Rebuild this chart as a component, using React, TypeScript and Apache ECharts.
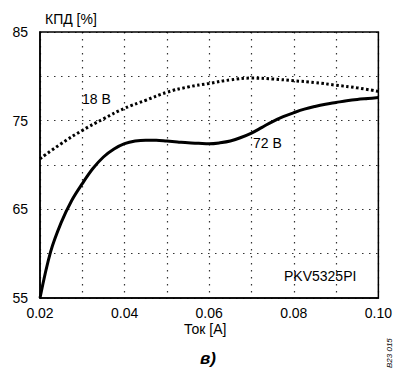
import React, { useEffect, useRef } from "react";
import * as echarts from "echarts";

const current18 = [0.02, 0.025, 0.03, 0.035, 0.04, 0.045, 0.05, 0.055, 0.06, 0.065, 0.07, 0.075, 0.08, 0.085, 0.09, 0.095, 0.1];
const eff18 = [70.7, 72.4, 73.9, 75.2, 76.4, 77.3, 78.2, 78.8, 79.2, 79.6, 79.8, 79.7, 79.5, 79.3, 79.0, 78.7, 78.3];

const current72 = [
  0.02, 0.0225, 0.025, 0.0275, 0.03, 0.0325, 0.035, 0.0375, 0.04, 0.0425, 0.045, 0.0475, 0.05, 0.0525, 0.055, 0.0575,
  0.06, 0.0625, 0.065, 0.0675, 0.07, 0.0725, 0.075, 0.0775, 0.08, 0.0825, 0.085, 0.0875, 0.09, 0.0925, 0.095, 0.0975, 0.1,
];
const eff72 = [
  55, 60.2, 63.5, 66.0, 67.9, 69.6, 70.9, 71.8, 72.4, 72.7, 72.8, 72.8, 72.7, 72.6, 72.5, 72.45,
  72.4, 72.5, 72.7, 73.1, 73.6, 74.25, 74.9, 75.45, 75.9, 76.3, 76.6, 76.85, 77.05, 77.25, 77.4, 77.5, 77.6,
];

const xTickLabels = ["0.02", "0.04", "0.06", "0.08", "0.10"];
const yTickLabels = ["55", "65", "75", "85"];

const FONT = "'Liberation Sans', Arial, sans-serif";

export default function App() {
  const ref = useRef<HTMLDivElement>(null);
  useEffect(() => {
    if (!ref.current) return;
    const chart = echarts.init(ref.current, undefined, { renderer: "svg" });
    const grid = { left: 40, right: 16, top: 32, bottom: 73 };
    const splitStyle = { color: "#000", width: 1.2, type: [1.5, 5.5] as any, opacity: 0.8 };
    chart.setOption({
      animation: false,
      backgroundColor: "#fff",
      grid: { ...grid, show: true, borderColor: "#000", borderWidth: 1.5 },
      xAxis: {
        type: "value",
        min: 0.02,
        max: 0.1,
        interval: 0.01,
        axisLine: { show: true, lineStyle: { color: "#000", width: 1.5 } },
        axisTick: { show: false },
        splitLine: { show: true, lineStyle: splitStyle },
        axisLabel: {
          margin: 8,
          color: "#000",
          fontSize: 14,
          fontFamily: FONT,
          showMinLabel: true,
          showMaxLabel: true,
          formatter: (v: number) => {
            const s = v.toFixed(2);
            return xTickLabels.includes(s) ? s : "";
          },
        },
      },
      yAxis: {
        type: "value",
        min: 55,
        max: 85,
        interval: 5,
        axisLine: { show: true, lineStyle: { color: "#000", width: 1.5 } },
        axisTick: { show: false },
        splitLine: { show: true, lineStyle: splitStyle },
        axisLabel: {
          margin: 12,
          color: "#000",
          fontSize: 14,
          fontFamily: FONT,
          formatter: (v: number) => {
            const s = String(Math.round(v));
            return yTickLabels.includes(s) ? s : "";
          },
        },
      },
      series: [
        {
          type: "line",
          name: "18 В",
          data: current18.map((x, i) => [x, eff18[i]]),
          smooth: 0.5,
          showSymbol: false,
          lineStyle: { color: "#000", width: 3, type: [2.5, 2.5] as any },
        },
        {
          type: "line",
          name: "72 В",
          data: current72.map((x, i) => [x, eff72[i]]),
          smooth: 0.35,
          showSymbol: false,
          lineStyle: { color: "#000", width: 3 },
        },
      ],
      graphic: [
        { type: "text", left: 45, top: 12, style: { text: "КПД [%]", fontSize: 14, fontFamily: FONT, fill: "#000" } },
        { type: "text", left: 82, top: 92, style: { text: "18 В", fontSize: 14, fontFamily: FONT, fill: "#000" } },
        { type: "text", left: 253, top: 136, style: { text: "72 В", fontSize: 14, fontFamily: FONT, fill: "#000" } },
        { type: "text", left: 284, top: 269, style: { text: "PKV5325PI", fontSize: 14, fontFamily: FONT, fill: "#000" } },
        { type: "text", left: 184, top: 322, style: { text: "Ток [A]", fontSize: 14, fontFamily: FONT, fill: "#000" } },
        { type: "text", left: 200, top: 350, style: { text: "в)", fontSize: 17, fontWeight: "bold", fontStyle: "italic", fontFamily: FONT, fill: "#000" } },
        {
          type: "text",
          x: 385,
          y: 368,
          rotation: Math.PI / 2,
          style: { text: "B23 015", fontSize: 8, fontStyle: "italic", fontFamily: FONT, fill: "#000", textVerticalAlign: "top" },
        },
      ],
    });
    return () => chart.dispose();
  }, []);
  return <div ref={ref} style={{ position: "fixed", left: 0, top: 0, width: 395, height: 371 }} />;
}
